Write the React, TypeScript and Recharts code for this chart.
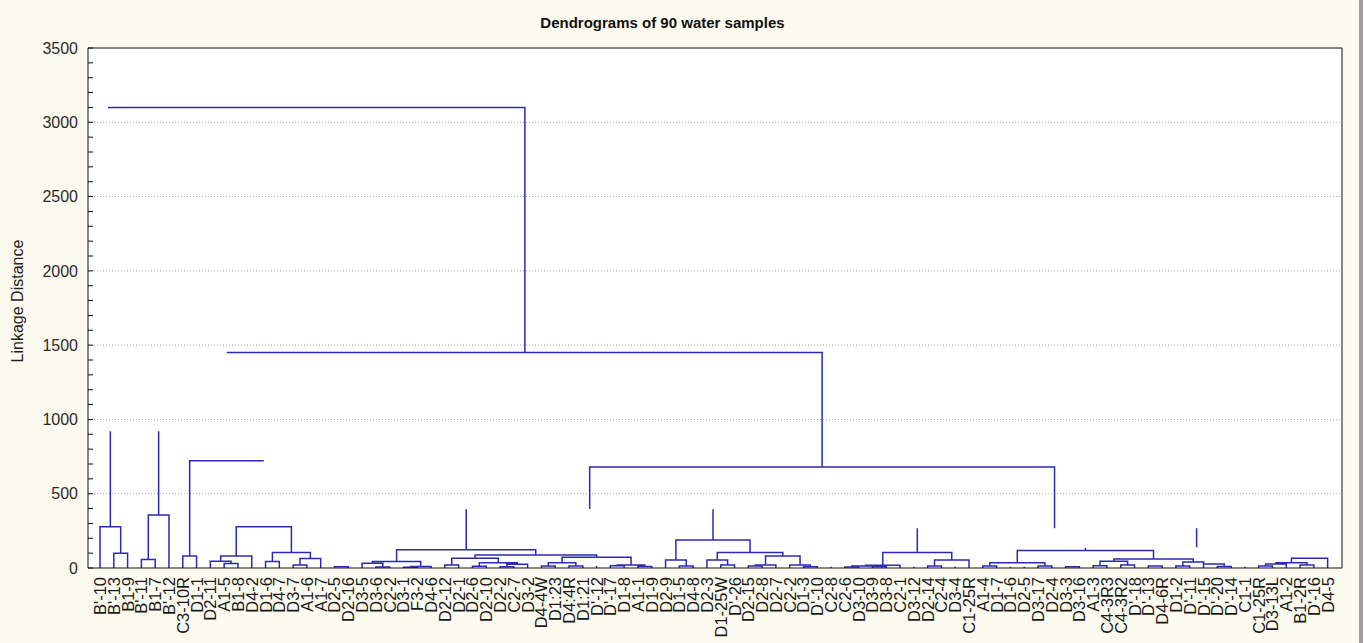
import { LineChart, Line, XAxis, YAxis, CartesianGrid } from "recharts";

// leaf order along the bottom axis (as printed on the chart)
const leafLabels = [
  "B'-10", "B'-13", "B1-9", "B'-11", "B1-7", "B'-12", "C3-10R", "D1-1", "D2-11", "A1-5",
  "B1-8", "D4-2", "D1-6", "D4-7", "D3-7", "A1-6", "A1-7", "D2-5", "D2-16", "D3-5",
  "D3-6", "C2-2", "D3-1", "F3-2", "D4-6", "D2-12", "D2-1", "D2-6", "D2-10", "D2-2",
  "C2-7", "D3-2", "D4-4W", "D1:23", "D4:4R", "D1:21", "D'-12", "D'-17", "D1-8", "A1-1",
  "D1-9", "D2-9", "D1-5", "D4-8", "D2-3", "D1-25W", "D'-26", "D2-15", "D2-8", "D2-7",
  "C2-2", "D1-3", "D'-10", "C2-8", "C2-6", "D3-10", "D3-9", "D3-8", "C2-1", "D3-12",
  "D2-14", "C2-4", "D3-4", "C1-25R", "A1-4", "D1-7", "D1-6", "D2-5", "D3-17", "D2-4",
  "D3-3", "D3-16", "A1-3", "C4-3R3", "C4-3R2", "D'-18", "D'-13", "D4-6R", "D1-2", "D'-11",
  "D'-15", "D'-20", "D'-14", "C1-1", "C1-25R", "D3-13L", "A1-2", "B1-2R", "D'-16", "D4-5",
];

// merges: [left pos, right pos, linkage height, left child height, right child height]
const merges: number[][] = [
  [0.58, 30.8, 3100, 3100, 1450],
  [9.19, 52.35, 1450, 1450, 680],
  [35.5, 69.2, 680, 397, 267],
  [1, 2, 99, 0, 0],
  [0, 1.5, 278, 0, 99],
  [3, 4, 58, 0, 0],
  [3.5, 5, 357, 58, 0],
  [6, 7, 81, 0, 0],
  [6.5, 11.875, 722, 81, 722],
  [9, 10, 30, 0, 0],
  [8, 9.5, 45, 0, 30],
  [8.75, 11, 81, 45, 0],
  [9.875, 13.875, 278, 81, 105],
  [12, 13, 43, 0, 0],
  [14, 15, 20, 0, 0],
  [14.5, 16, 64, 20, 0],
  [12.5, 15.25, 105, 43, 64],
  [17, 18, 9, 0, 0],
  [20, 21, 6, 0, 0],
  [19, 20.5, 32, 0, 6],
  [22, 23, 5, 0, 0],
  [22.5, 24, 10, 5, 0],
  [19.75, 23.25, 43, 32, 10],
  [25, 26, 20, 0, 0],
  [27, 28, 12, 0, 0],
  [29, 30, 8, 0, 0],
  [29.5, 31, 25, 8, 0],
  [27.5, 30.25, 36, 12, 25],
  [25.5, 28.875, 65, 20, 36],
  [32, 33, 13, 0, 0],
  [34, 35, 13, 0, 0],
  [32.5, 34.5, 36, 13, 13],
  [37, 38, 15, 0, 0],
  [39, 40, 10, 0, 0],
  [37.5, 39.5, 20, 15, 10],
  [33.5, 38.5, 72, 36, 20],
  [27.19, 36, 87, 65, 72],
  [21.5, 31.59, 123, 43, 87],
  [42, 43, 13, 0, 0],
  [41, 42.5, 54, 0, 13],
  [45, 46, 20, 0, 0],
  [44, 45.5, 54, 0, 20],
  [47, 48, 13, 0, 0],
  [47.5, 49, 20, 13, 0],
  [51, 52, 8, 0, 0],
  [50, 51.5, 20, 0, 8],
  [48.25, 50.75, 81, 20, 20],
  [44.75, 49.5, 105, 54, 81],
  [41.75, 47.125, 188, 54, 105],
  [54, 55, 6, 0, 0],
  [56, 57, 8, 0, 0],
  [54.5, 56.5, 14, 6, 8],
  [55.5, 58, 18, 14, 0],
  [60, 61, 13, 0, 0],
  [60.5, 63, 54, 13, 0],
  [56.75, 61.75, 105, 18, 54],
  [64, 65, 13, 0, 0],
  [68, 69, 13, 0, 0],
  [64.5, 68.5, 36, 13, 13],
  [70, 71, 8, 0, 0],
  [72, 73, 15, 0, 0],
  [74, 75, 20, 0, 0],
  [72.5, 74.5, 45, 15, 20],
  [76, 77, 13, 0, 0],
  [78, 79, 13, 0, 0],
  [78.5, 80, 40, 13, 0],
  [73.5, 79.25, 60, 45, 40],
  [66.5, 76.375, 117, 36, 60],
  [81, 82, 10, 0, 0],
  [80, 81.5, 27, 27, 10],
  [84, 85, 13, 0, 0],
  [84.5, 86, 27, 13, 0],
  [87, 88, 20, 0, 0],
  [85.25, 87.5, 35, 27, 20],
  [86.375, 89, 65, 35, 0],
];

// loose vertical stems: [pos, from height, to height]
const stems: number[][] = [
  [0.75, 278, 920],
  [4.25, 357, 920],
  [26.55, 123, 395],
  [36, 0, 13],
  [44.44, 188, 395],
  [53, 0, 8],
  [59, 0, 8],
  [62, 0, 8],
  [59.25, 105, 267],
  [66, 0, 8],
  [67, 0, 8],
  [71.44, 117, 135],
  [79.5, 140, 267],
  [83, 0, 8],
];

const yMajor = [0, 500, 1000, 1500, 2000, 2500, 3000, 3500];
const yGrid = [500, 1000, 1500, 2000, 2500, 3000];
const yTicks = Array.from({ length: 36 }, (_, i) => i * 100);
const leafTicks = leafLabels.map((_, i) => i);

type Pt = { x: number; y: number | null };

const points: Pt[] = [];
merges.forEach(([l, r, h, lb, rb]) => {
  points.push({ x: l, y: lb }, { x: l, y: h }, { x: r, y: h }, { x: r, y: rb }, { x: r, y: null });
});
stems.forEach(([x, a, b]) => {
  points.push({ x, y: a }, { x, y: b }, { x, y: null });
});

const FONT = "'Liberation Sans', Arial, sans-serif";

function LeafTick(props: any) {
  const { x, y, payload } = props;
  return (
    <text
      x={x}
      y={y}
      transform={`rotate(-90, ${x}, ${y})`}
      textAnchor="end"
      dominantBaseline="central"
      fontSize={16.5}
      fontFamily={FONT}
      fill="#1a1a1a"
    >
      {leafLabels[payload.value]}
    </text>
  );
}

export default function App() {
  return (
    <div
      style={{
        position: "absolute",
        left: 0,
        top: 0,
        width: 1364,
        height: 643,
        background: "#fdfaf0",
        overflow: "hidden",
        fontFamily: FONT,
      }}
    >
      <LineChart
        width={1364}
        height={643}
        data={points}
        margin={{ top: 0, right: 21, bottom: 0, left: 8 }}
      >
        <CartesianGrid
          xAxisId="b"
          yAxisId="left"
          vertical={false}
          horizontalValues={yGrid}
          stroke="#a8a8a8"
          strokeDasharray="1 2"
          fill="#ffffff"
        />
        <XAxis
          xAxisId="b"
          dataKey="x"
          type="number"
          domain={[-0.87, 90.04]}
          ticks={leafTicks}
          interval={0}
          allowDataOverflow
          height={75}
          tickLine={false}
          tickSize={0}
          tickMargin={9}
          tick={<LeafTick />}
          axisLine={{ stroke: "#111" }}
        />
        <XAxis
          xAxisId="t"
          orientation="top"
          dataKey="x"
          type="number"
          domain={[-0.87, 90.04]}
          ticks={leafTicks}
          interval={0}
          allowDataOverflow
          height={48}
          tick={false}
          tickSize={-5}
          tickLine={{ stroke: "#111" }}
          axisLine={{ stroke: "#111" }}
        />
        <YAxis
          yAxisId="left"
          type="number"
          domain={[0, 3500]}
          ticks={yTicks}
          interval={0}
          width={80}
          tickSize={-5}
          tickMargin={15}
          tickFormatter={(v: number) => (yMajor.includes(v) ? String(v) : "")}
          tick={{ fontSize: 16, fill: "#2a2a2a", fontFamily: FONT }}
          tickLine={{ stroke: "#111" }}
          axisLine={{ stroke: "#111" }}
        />
        <YAxis
          yAxisId="right"
          orientation="right"
          type="number"
          domain={[0, 3500]}
          ticks={yTicks}
          interval={0}
          width={1}
          tick={false}
          tickSize={-5}
          tickLine={{ stroke: "#111" }}
          axisLine={{ stroke: "#111" }}
        />
        <Line
          xAxisId="b"
          yAxisId="left"
          dataKey="y"
          type="linear"
          stroke="#2a2ab4"
          strokeWidth={1.5}
          dot={false}
          activeDot={false}
          connectNulls={false}
          isAnimationActive={false}
        />
      </LineChart>
      <div
        style={{
          position: "absolute",
          left: 0,
          top: 14,
          width: 1325,
          textAlign: "center",
          fontWeight: "bold",
          fontSize: 15,
          lineHeight: "18px",
          color: "#111",
        }}
      >
        Dendrograms of 90 water samples
      </div>
      <div
        style={{
          position: "absolute",
          left: 18,
          top: 301,
          transform: "translate(-50%, -50%) rotate(-90deg)",
          whiteSpace: "nowrap",
          fontSize: 16,
          color: "#222",
        }}
      >
        Linkage Distance
      </div>
      <div
        style={{
          position: "absolute",
          left: 1359,
          top: 0,
          width: 4,
          height: 643,
          background: "#a0a0a0",
        }}
      />
    </div>
  );
}
